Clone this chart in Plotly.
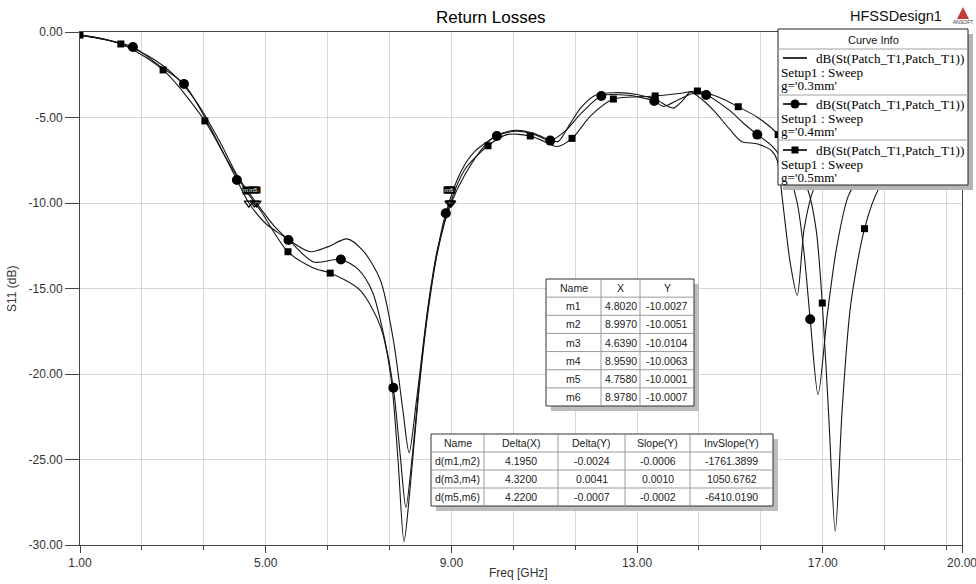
import plotly.graph_objects as go

# ---------------- data ----------------
freq_03 = [1.0, 1.5, 2.0, 2.5, 3.0, 3.5, 4.0, 4.4, 4.802, 5.2, 5.5, 5.96, 6.35, 6.75, 7.1, 7.47,
           7.75, 7.95, 8.09, 8.25, 8.5, 8.7, 8.997, 9.3, 9.7, 10.0, 10.4, 10.8, 11.1, 11.3, 11.55,
           11.8, 12.1, 12.5, 13.0, 13.4, 13.78, 14.0, 14.15, 14.4, 14.64, 15.0, 15.25, 15.6, 15.9,
           16.02, 16.14, 16.3, 16.45, 16.6, 16.8, 17.1, 17.6, 18.2, 19.0, 20.0]
s11_03 = [-0.18, -0.40, -0.80, -1.45, -2.45, -4.05, -6.35, -8.45, -10.0, -11.4, -12.15, -12.85,
          -12.55, -12.1, -12.8, -14.5, -18.0, -22.0, -24.6, -21.5, -16.0, -12.7, -10.0, -8.3, -6.7,
          -6.0, -5.75, -5.95, -6.3, -6.4, -5.4, -4.4, -3.7, -3.55, -3.65, -3.95, -4.45, -3.95, -3.5,
          -3.95, -4.56, -5.7, -6.4, -6.55, -6.95, -7.5, -10.0, -13.5, -15.4, -11.5, -9.2, -7.6,
          -6.3, -5.4, -4.6, -4.0]

freq_04 = [1.0, 1.5, 2.14, 2.7, 3.24, 3.8, 4.38, 4.639, 5.0, 5.49, 6.03, 6.62, 7.0, 7.3, 7.55,
           7.75, 7.9, 8.02, 8.15, 8.3, 8.5, 8.7, 8.88, 9.2, 9.5, 9.98, 10.4, 10.8, 11.13, 11.45,
           11.8, 12.23, 12.8, 13.37, 13.57, 13.9, 14.25, 14.49, 15.0, 15.3, 15.59, 15.9, 16.2,
           16.45, 16.6, 16.73, 16.9, 17.1, 17.3, 17.55, 17.85, 18.5, 19.2, 20.0]
s11_04 = [-0.18, -0.42, -0.88, -1.95, -3.04, -5.55, -8.65, -10.0, -11.2, -12.16, -13.45, -13.3,
          -13.9, -15.2, -17.8, -20.8, -24.8, -27.8, -25.0, -20.8, -16.1, -12.8, -10.6, -8.2, -7.0,
          -6.08, -5.8, -6.0, -6.35, -5.8, -4.75, -3.74, -3.7, -4.03, -4.35, -3.95, -3.55, -3.68,
          -4.6, -5.35, -6.0, -6.65, -7.8, -10.0, -13.0, -16.8, -21.2, -16.5, -12.6, -9.6, -8.3,
          -6.6, -5.5, -4.6]

freq_05 = [1.0, 1.88, 2.79, 3.69, 4.15, 4.58, 4.9, 5.48, 6.03, 6.39, 7.03, 7.47, 7.7, 7.85, 7.98,
           8.1, 8.3, 8.5, 8.7, 8.978, 9.3, 9.79, 10.2, 10.7, 11.0, 11.27, 11.6, 12.0, 12.49, 12.9,
           13.39, 13.9, 14.3, 14.75, 15.18, 15.6, 16.04, 16.4, 16.7, 16.86, 16.99, 17.13, 17.27,
           17.42, 17.6, 17.9, 18.2, 18.7, 19.3, 20.0]
s11_05 = [-0.18, -0.70, -2.22, -5.2, -7.4, -9.3, -10.5, -12.85, -13.8, -14.1, -15.1, -17.2, -20.2,
          -25.0, -29.8, -27.0, -21.0, -16.3, -12.9, -10.0, -8.0, -6.65, -6.0, -6.08, -6.4, -6.7,
          -6.22, -4.9, -3.92, -3.8, -3.74, -3.6, -3.45, -3.8, -4.37, -5.0, -6.0, -7.5, -9.4, -11.6,
          -15.85, -22.5, -29.2, -22.0, -16.0, -11.5, -9.2, -7.4, -6.1, -5.2]

# frequencies at which HFSS draws the symbols of each trace
circle_freqs_04 = [2.14, 3.24, 4.38, 5.49, 6.62, 7.75, 8.88, 9.98, 11.13, 12.23, 13.37, 14.49,
                   15.59, 16.73]
square_freqs_05 = [1.0, 1.88, 2.79, 3.69, 4.58, 5.48, 6.39, 9.79, 10.7, 11.6, 12.49, 13.39, 14.3,
                   15.18, 16.04, 16.99, 17.9]

legend_names = ["g='0.3mm'", "g='0.4mm'", "g='0.5mm'"]

marker_names = ["m1", "m2", "m3", "m4", "m5", "m6"]
marker_x = [4.8020, 8.9970, 4.6390, 8.9590, 4.7580, 8.9780]
marker_y = [-10.0027, -10.0051, -10.0104, -10.0063, -10.0001, -10.0007]

delta_names = ["d(m1,m2)", "d(m3,m4)", "d(m5,m6)"]
delta_x = [4.1950, 4.3200, 4.2200]
delta_y = [-0.0024, 0.0041, -0.0007]
slope_y = [-0.0006, 0.0010, -0.0002]
invslope_y = [-1761.3899, 1050.6762, -6410.0190]

xtick_vals = [1, 5, 9, 13, 17, 20]
xtick_text = ["1.00", "5.00", "9.00", "13.00", "17.00", "20.00"]
ytick_vals = [0, -5, -10, -15, -20, -25, -30]
ytick_text = ["0.00", "-5.00", "-10.00", "-15.00", "-20.00", "-25.00", "-30.00"]

# ---------------- layout helpers (pixel -> paper) ----------------
L, R, T, B = 80, 962, 32, 545
W, H = 976, 584


def px(x):
    return (x - L) / (R - L)


def py(y):
    return (B - y) / (B - T)


SANS = "Liberation Sans, Arial, sans-serif"
SERIF = "Liberation Serif, Times New Roman, serif"

fig = go.Figure()
LINE = "#151515"
for f, s in [(freq_03, s11_03), (freq_04, s11_04), (freq_05, s11_05)]:
    fig.add_trace(go.Scatter(x=f, y=s, mode="lines", hoverinfo="skip", showlegend=False,
                             line=dict(color=LINE, width=1.1, shape="spline", smoothing=0.8)))

lookup04 = dict(zip(freq_04, s11_04))
lookup05 = dict(zip(freq_05, s11_05))
fig.add_trace(go.Scatter(x=circle_freqs_04, y=[lookup04[f] for f in circle_freqs_04],
                         mode="markers", showlegend=False, hoverinfo="skip",
                         marker=dict(symbol="circle", size=10, color="#000")))
fig.add_trace(go.Scatter(x=square_freqs_05, y=[lookup05[f] for f in square_freqs_05],
                         mode="markers", showlegend=False, hoverinfo="skip",
                         marker=dict(symbol="square", size=7, color="#000")))
# m-markers
fig.add_trace(go.Scatter(x=marker_x, y=marker_y, mode="markers", showlegend=False,
                         hoverinfo="skip",
                         marker=dict(symbol="triangle-down-open", size=8,
                                     line=dict(color="#000", width=1.2), color="#000")))

shapes = []
annotations = []


def ann(x, y, text, size, family=SANS, color="#222", xanchor="center", yanchor="middle", **kw):
    d = dict(xref="paper", yref="paper", x=px(x), y=py(y), text=text, showarrow=False,
             font=dict(family=family, size=size, color=color), xanchor=xanchor, yanchor=yanchor)
    d.update(kw)
    annotations.append(d)


def rect(x0, y0, x1, y1, fill, line_color=None, lw=1):
    shapes.append(dict(type="rect", xref="paper", yref="paper", x0=px(x0), x1=px(x1),
                       y0=py(y1), y1=py(y0), fillcolor=fill, layer="above",
                       line=dict(color=line_color or fill, width=lw if line_color else 0)))


def hline(x0, x1, y, color, lw=1):
    shapes.append(dict(type="line", xref="paper", yref="paper", x0=px(x0), x1=px(x1),
                       y0=py(y), y1=py(y), layer="above", line=dict(color=color, width=lw)))


def vline(x, y0, y1, color, lw=1):
    shapes.append(dict(type="line", xref="paper", yref="paper", x0=px(x), x1=px(x),
                       y0=py(y0), y1=py(y1), layer="above", line=dict(color=color, width=lw)))


# m-marker labels (HFSS draws them as tiny black tags that overlap each other)
for name, mx, my in zip(marker_names, marker_x, marker_y):
    annotations.append(dict(xref="x", yref="y", x=mx, y=my, text=name, showarrow=False,
                            font=dict(family=SANS, size=6, color="#ffffff"), bgcolor="#000000",
                            borderpad=0, xanchor="center", yanchor="bottom", yshift=9,
                            xshift=-1))

# ---------------- marker table 1 ----------------
t1_cols = [546, 601, 640, 694]
t1_top, t1_bot = 279, 406
t1_rows = [t1_top + (t1_bot - t1_top) * k / 7 for k in range(8)]
rect(t1_cols[0] + 5, t1_top + 5, t1_cols[-1] + 5, t1_bot + 5, "#bdbdbd")
rect(t1_cols[0], t1_top, t1_cols[-1], t1_bot, "#ffffff", "#333", 1)
for yv in t1_rows[1:-1]:
    hline(t1_cols[0], t1_cols[-1], yv, "#9a9a9a")
for xv in t1_cols[1:-1]:
    vline(xv, t1_top, t1_bot, "#9a9a9a")
hdr1 = ["Name", "X", "Y"]
for c in range(3):
    cx = (t1_cols[c] + t1_cols[c + 1]) / 2
    ann(cx, (t1_rows[0] + t1_rows[1]) / 2, hdr1[c], 10.5)
for r in range(6):
    cy = (t1_rows[r + 1] + t1_rows[r + 2]) / 2
    vals = [marker_names[r], f"{marker_x[r]:.4f}", f"{marker_y[r]:.4f}"]
    for c in range(3):
        ann((t1_cols[c] + t1_cols[c + 1]) / 2, cy, vals[c], 10.5)

# ---------------- delta table 2 ----------------
t2_cols = [431, 484, 558, 625, 690, 773]
t2_rows = [434, 452, 470, 488, 506]
rect(t2_cols[0] + 5, t2_rows[0] + 5, t2_cols[-1] + 5, t2_rows[-1] + 5, "#bdbdbd")
rect(t2_cols[0], t2_rows[0], t2_cols[-1], t2_rows[-1], "#ffffff", "#333", 1)
for yv in t2_rows[1:-1]:
    hline(t2_cols[0], t2_cols[-1], yv, "#9a9a9a")
for xv in t2_cols[1:-1]:
    vline(xv, t2_rows[0], t2_rows[-1], "#9a9a9a")
hdr2 = ["Name", "Delta(X)", "Delta(Y)", "Slope(Y)", "InvSlope(Y)"]
for c in range(5):
    ann((t2_cols[c] + t2_cols[c + 1]) / 2, (t2_rows[0] + t2_rows[1]) / 2, hdr2[c], 10.5)
for r in range(3):
    cy = (t2_rows[r + 1] + t2_rows[r + 2]) / 2
    vals = [delta_names[r], f"{delta_x[r]:.4f}", f"{delta_y[r]:.4f}", f"{slope_y[r]:.4f}",
            f"{invslope_y[r]:.4f}"]
    for c in range(5):
        ann((t2_cols[c] + t2_cols[c + 1]) / 2, cy, vals[c], 10.5)

# ---------------- Curve Info legend ----------------
lg_l, lg_r, lg_t, lg_b = 778, 968, 29, 185
rect(lg_l + 5, lg_t + 5, lg_r + 5, lg_b + 5, "#b5b5b5")
rect(lg_l, lg_t, lg_r, lg_b, "#ffffff", "#222", 1)
for yv in [49, 95, 140]:
    hline(lg_l, lg_r, yv, "#a0a0a0")
ann((lg_l + lg_r) / 2, 40, "Curve Info", 11, color="#111")
entry_y = [58, 104, 150]
for i, (ey, nm) in enumerate(zip(entry_y, legend_names)):
    hline(783, 807, ey, "#000", 1.6)
    if i == 1:
        shapes.append(dict(type="circle", xref="paper", yref="paper", x0=px(790.5), x1=px(799.5),
                           y0=py(ey + 4.5), y1=py(ey - 4.5), fillcolor="#000", layer="above",
                           line=dict(color="#000", width=0)))
    elif i == 2:
        rect(791.5, ey - 3.5, 798.5, ey + 3.5, "#000")
    ann(814, ey, "dB(St(Patch_T1,Patch_T1))", 13.2, family=SERIF, color="#000",
        xanchor="left")
    ann(779, ey + 14.5, "Setup1 : Sweep", 13.2, family=SERIF, color="#000", xanchor="left")
    ann(779, ey + 27, nm, 13.2, family=SERIF, color="#000", xanchor="left")

# ---------------- titles ----------------
ann(491, 17, "Return Losses", 17, color="#000")
ann(896, 16, "HFSSDesign1", 14.5, color="#111")
shapes.append(dict(type="path", xref="paper", yref="paper", layer="above",
                   path=f"M {px(957)} {py(19)} L {px(963)} {py(7)} L {px(969)} {py(19)} Z",
                   fillcolor="#c23a3a", line=dict(width=0)))
ann(963, 22, "ANSOFT", 5, color="#333")
ann(12, 289, "S11 (dB)", 12, color="#333", textangle=-90)
ann(518, 573, "Freq [GHz]", 12, color="#333")

GRID = "#d7d7d7"
fig.update_layout(
    width=W, height=H, margin=dict(l=L, r=W - R, t=T, b=H - B, autoexpand=False),
    paper_bgcolor="#ffffff", plot_bgcolor="#ffffff", showlegend=False,
    shapes=shapes, annotations=annotations,
    xaxis=dict(range=[1, 20], tickvals=xtick_vals, ticktext=xtick_text, ticks="outside",
               ticklen=7, tickcolor="#444", showgrid=True, gridcolor=GRID, showline=True,
               linecolor="#444", linewidth=1, mirror=True, zeroline=False,
               ticklabeloverflow="allow", automargin=False,
               tickfont=dict(family=SANS, size=12, color="#333"),
               minor=dict(tick0=1, dtick=4 / 3, ticks="outside", ticklen=4, tickcolor="#444",
                          showgrid=True, gridcolor=GRID)),
    yaxis=dict(range=[-30, 0], tickvals=ytick_vals, ticktext=ytick_text, ticks="outside",
               ticklen=14, tickcolor="#444", showgrid=True, gridcolor=GRID, showline=True,
               linecolor="#444", linewidth=1, mirror=True, zeroline=False, automargin=False,
               tickfont=dict(family=SANS, size=12, color="#333")),
)

fig.write_html("out.html", config={"displayModeBar": False},
               post_script="document.documentElement.style.margin='0';"
                           "document.body.style.margin='0';"
                           "document.body.style.overflow='hidden';")
